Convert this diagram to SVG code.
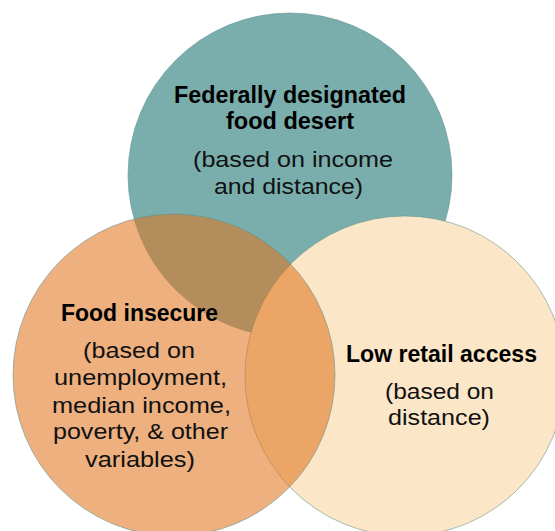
<svg xmlns="http://www.w3.org/2000/svg" width="555" height="531" viewBox="0 0 555 531">
  <style>
    .ring { stroke: #5f8f8c; stroke-width: 0.8; stroke-opacity: 0.7; }
    .title { font-family: "Liberation Sans", Arial, sans-serif; font-weight: bold; font-size: 23px; fill: #000; text-anchor: middle; }
    .sub { font-family: "Liberation Sans", Arial, sans-serif; font-size: 22px; fill: #111; text-anchor: middle; }
  </style>
  <rect width="555" height="531" fill="#ffffff"/>

  <!-- Federally designated food desert -->
  <g id="food-desert">
    <circle class="ring" cx="290" cy="175" r="162" fill="#79aead"/>
    <text class="title" x="290" y="103" textLength="232" lengthAdjust="spacingAndGlyphs">Federally designated</text>
    <text class="title" x="290" y="129" textLength="128" lengthAdjust="spacingAndGlyphs">food desert</text>
    <text class="sub" x="293" y="167" textLength="200" lengthAdjust="spacingAndGlyphs">(based on income</text>
    <text class="sub" x="288.5" y="194" textLength="149" lengthAdjust="spacingAndGlyphs">and distance)</text>
  </g>

  <!-- Low retail access -->
  <g id="low-retail-access">
    <circle class="ring" cx="405" cy="376" r="160" fill="#fbe6c7"/>
  </g>

  <!-- Food insecure (translucent, drawn over the others) -->
  <g id="food-insecure">
    <circle class="ring" cx="174" cy="375" r="161" fill="#df741c" fill-opacity="0.57"/>
    <text class="title" x="139.5" y="321" textLength="157" lengthAdjust="spacingAndGlyphs">Food insecure</text>
    <text class="sub" x="139" y="358" textLength="112" lengthAdjust="spacingAndGlyphs">(based on</text>
    <text class="sub" x="140.5" y="385" textLength="173" lengthAdjust="spacingAndGlyphs">unemployment,</text>
    <text class="sub" x="141.5" y="413" textLength="179" lengthAdjust="spacingAndGlyphs">median income,</text>
    <text class="sub" x="140.5" y="439" textLength="175" lengthAdjust="spacingAndGlyphs">poverty, &amp; other</text>
    <text class="sub" x="140" y="467" textLength="110" lengthAdjust="spacingAndGlyphs">variables)</text>
  </g>

  <!-- Low retail access labels sit above the translucent circle -->
  <g id="low-retail-access-text">
    <text class="title" x="441.5" y="362" textLength="191" lengthAdjust="spacingAndGlyphs">Low retail access</text>
    <text class="sub" x="439.5" y="399" textLength="109" lengthAdjust="spacingAndGlyphs">(based on</text>
    <text class="sub" x="439" y="425" textLength="102" lengthAdjust="spacingAndGlyphs">distance)</text>
  </g>

  <g id="connectors"/>
</svg>
